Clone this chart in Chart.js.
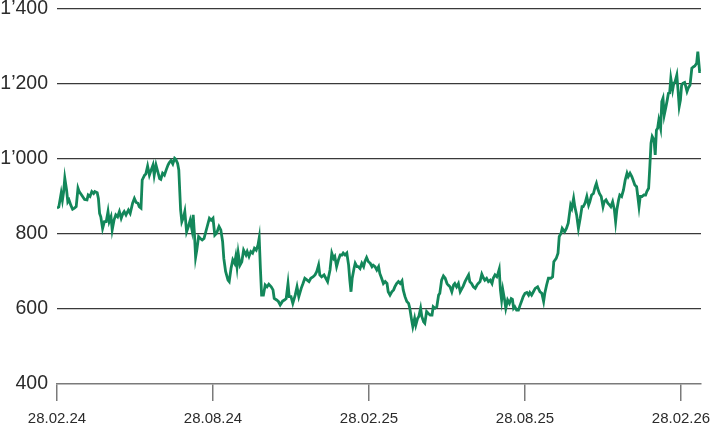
<!DOCTYPE html>
<html>
<head>
<meta charset="utf-8">
<script src="https://cdn.jsdelivr.net/npm/chart.js@4.4.1/dist/chart.umd.min.js"></script>
<style>
  html, body { margin: 0; padding: 0; background: #fff; }
  .chart-container { position: relative; width: 712px; height: 428px; }
</style>
</head>
<body>
<div class="chart-container"><canvas id="priceChart"></canvas></div>
<script>
// time axis in weeks since 28.02.24
const xTickWeeks = [0, 26, 52, 78, 104];
const xTickLabels = ['28.02.24', '28.08.24', '28.02.25', '28.08.25', '28.02.26'];
const lastWeek = 107.33;
const yTicks = [400, 600, 800, 1000, 1200, 1400];

const weeks = [
  0.0, 0.3, 0.7, 0.9, 1.1, 1.3, 1.6, 1.8, 2.0, 2.3, 2.6, 2.9, 3.2, 3.5, 3.7, 4.1, 4.6, 5.0, 5.2, 5.5,
  5.8, 6.1, 6.3, 6.7, 6.9, 7.1, 7.3, 7.6, 7.9, 8.2, 8.5, 8.7, 9.0, 9.2, 9.5, 9.8, 10.1, 10.4, 10.7, 11.0,
  11.2, 11.5, 11.9, 12.2, 12.6, 12.9, 13.2, 13.5, 13.7, 14.0, 14.2, 14.6, 14.8, 15.1, 15.4, 15.7, 16.0, 16.2, 16.5, 16.8,
  17.1, 17.3, 17.6, 17.9, 18.2, 18.5, 18.7, 19.0, 19.3, 19.6, 19.8, 20.1, 20.3, 20.6, 20.8, 21.1, 21.3, 21.6, 21.9, 22.2,
  22.5, 22.7, 22.9, 23.1, 23.3, 23.6, 23.9, 24.2, 24.5, 24.8, 25.1, 25.4, 25.7, 26.0,
  26.3, 26.6, 27.0, 27.3, 27.6, 27.8, 28.1, 28.5, 28.7, 29.0, 29.3, 29.6, 29.8, 30.0, 30.2, 30.5, 30.8, 31.1, 31.5, 31.7,
  32.0, 32.3, 32.6, 32.9, 33.2, 33.5, 33.7, 33.9, 34.1, 34.4, 34.7, 35.0, 35.3, 35.7, 36.0, 36.2, 36.6, 36.9, 37.2, 37.6,
  37.9, 38.2, 38.5, 38.7, 39.0, 39.3, 39.7, 40.0, 40.3, 40.7, 41.0, 41.3, 41.7, 42.0, 42.3, 42.7, 43.0, 43.3, 43.6, 43.8,
  44.1, 44.5, 44.8, 45.1, 45.5, 45.8, 46.1, 46.3, 46.6, 46.9, 47.2, 47.5, 47.7, 48.0, 48.3, 48.6, 48.8, 49.0, 49.2, 49.5,
  49.7, 50.0, 50.2, 50.5, 50.8, 51.1, 51.3, 51.6, 51.9, 52.2, 52.5, 52.7,
  53.0, 53.3, 53.6, 53.8, 54.1, 54.4, 54.7, 55.0, 55.2, 55.5, 55.8, 56.1, 56.3, 56.6, 56.9, 57.2, 57.5, 57.7, 58.0, 58.3,
  58.6, 58.8, 59.1, 59.3, 59.6, 59.8, 60.1, 60.3, 60.6, 60.8, 61.1, 61.3, 61.6, 61.9, 62.2, 62.5, 62.7, 63.0, 63.3, 63.6,
  63.8, 64.1, 64.4, 64.7, 65.0, 65.2, 65.5, 65.8, 66.1, 66.3, 66.6, 66.9, 67.2, 67.5, 67.7, 68.0, 68.3, 68.6, 68.8, 69.1,
  69.4, 69.7, 70.0, 70.2, 70.5, 70.8, 71.1, 71.3, 71.6, 71.9, 72.2, 72.5, 72.7, 73.0, 73.3, 73.5, 73.7, 73.9, 74.1, 74.3,
  74.6, 74.8, 75.1, 75.4, 75.7, 75.9, 76.1, 76.3, 76.6, 76.9, 77.2, 77.5, 77.7, 78.0, 78.3, 78.6, 78.8, 79.1, 79.4,
  79.7, 80.1, 80.5, 80.8, 81.1, 81.3, 81.6, 81.9, 82.3, 82.6, 82.8, 83.2, 83.5, 83.7, 84.0, 84.2, 84.6, 84.9, 85.2, 85.6,
  85.8, 86.1, 86.3, 86.6, 86.9, 87.2, 87.5, 87.7, 88.0, 88.3, 88.6, 88.8, 89.1, 89.4, 89.7, 89.9, 90.1, 90.4, 90.7, 91.0,
  91.2, 91.5, 91.8, 92.1, 92.3, 92.6, 92.9, 93.1, 93.3, 93.6, 93.8, 94.1, 94.4, 94.7, 95.0, 95.2, 95.5, 95.8, 96.1, 96.3,
  96.6, 96.8, 97.0, 97.2, 97.5, 97.8, 98.1, 98.3, 98.6, 98.8, 99.0, 99.2, 99.5, 99.7, 99.9, 100.1, 100.3, 100.6, 100.8, 101.0,
  101.2, 101.5, 101.7, 101.9, 102.1, 102.3, 102.6, 102.8, 103.0, 103.3, 103.5, 103.7, 103.9, 104.1, 104.3, 104.6, 104.8, 105.0, 105.2, 105.5,
  105.8, 106.1, 106.3, 106.6, 106.8, 107.1, 107.3
];

const closes = [
  869, 872, 909, 890, 912, 949, 917, 886, 891, 877, 866, 869, 873, 922, 913, 904, 892, 891, 904, 900,
  913, 908, 913, 910, 895, 855, 846, 815, 833, 833, 860, 833, 846, 811, 837, 851, 846, 860, 842, 855,
  860, 851, 864, 855, 882, 895, 884, 882, 873, 869, 944, 957, 960, 981, 957, 971, 984, 957, 984, 966,
  948, 946, 962, 957, 971, 984, 990, 996, 987, 1002, 999, 988, 971, 864, 833, 846, 860, 806, 820, 837,
  811, 851, 802, 738, 757, 793, 788, 784, 788, 806, 824, 842, 837, 842,
  797, 802, 820, 811, 780, 735, 700, 677, 673, 708, 731, 722, 740, 713, 749, 717, 726, 757, 744, 753,
  740, 753, 749, 762, 757, 771, 790, 708, 637, 637, 664, 659, 666, 659, 651, 628, 624, 620, 611, 621,
  624, 628, 668, 633, 633, 615, 637, 659, 633, 655, 668, 682, 677, 673, 682, 686, 691, 700, 717, 691,
  686, 691, 682, 673, 704, 749, 735, 740, 713, 731, 744, 744, 749, 744, 749, 717, 677, 646, 682, 708,
  722, 713, 713, 708, 722, 713, 726, 737, 726, 722, 713, 717,
  713, 704, 713, 695, 682, 668, 673, 668, 646, 637, 646, 651, 659, 668, 673, 668, 675, 651, 633, 620,
  615, 602, 571, 553, 575, 557, 575, 580, 602, 580, 566, 562, 593, 588, 584, 584, 606, 602, 606, 637,
  642, 677, 688, 682, 668, 664, 659, 646, 664, 668, 659, 668, 646, 655, 661, 673, 682, 691, 673, 668,
  659, 655, 664, 668, 673, 693, 682, 677, 682, 673, 677, 668, 682, 691, 686, 695, 706, 651, 624, 651,
  624, 602, 624, 615, 628, 626, 602, 606, 597, 597, 611, 624, 633, 642, 644, 637, 644, 637, 646,
  655, 659, 646, 642, 620, 642, 664, 682, 682, 686, 726, 735, 749, 793, 802, 815, 806, 815, 829, 877,
  869, 895, 873, 851, 815, 842, 873, 873, 882, 900, 877, 886, 904, 908, 926, 935, 922, 908, 900, 873,
  886, 891, 882, 877, 873, 886, 864, 833, 864, 891, 904, 900, 917, 944, 962, 953, 962, 953, 940, 931,
  926, 900, 873, 900, 900, 904, 904, 913, 922, 979, 1042, 1060, 1051, 1011, 1077, 1082, 1104, 1082, 1153, 1162,
  1117, 1140, 1157, 1175, 1176, 1215, 1184, 1202, 1206, 1224, 1184, 1140, 1157, 1197, 1202, 1204, 1193, 1180, 1189, 1197,
  1242, 1246, 1248, 1255, 1286, 1233, 1233
];

const fontFamily = '"Liberation Sans", Arial, sans-serif';

function formatThousands(v) {
    const s = String(v);
    return s.length > 3 ? s.slice(0, -3) + '\u2019' + s.slice(-3) : s;
}

const points = weeks.map((w, i) => ({ x: w, y: closes[i] }));

new Chart(document.getElementById('priceChart').getContext('2d'), {
    type: 'line',
    data: {
        datasets: [{
            data: points,
            borderColor: '#13875a',
            borderWidth: 2.8,
            pointRadius: 0,
            tension: 0,
            fill: false
        }]
    },
    options: {
        responsive: true,
        maintainAspectRatio: false,
        animation: false,
        layout: { padding: 0 },
        plugins: { legend: { display: false }, tooltip: { enabled: false } },
        scales: {
            x: {
                type: 'linear',
                min: 0,
                max: lastWeek,
                afterBuildTicks: scale => { scale.ticks = xTickWeeks.map(v => ({ value: v })); },
                afterFit: scale => {
                    scale.height = 44;
                    scale.paddingLeft = 0;
                    scale.paddingRight = 11;
                },
                ticks: {
                    callback: (v, i) => xTickLabels[i],
                    font: { family: fontFamily, size: 15 },
                    color: '#2b2b2b',
                    padding: 9,
                    maxRotation: 0,
                    autoSkip: false
                },
                grid: { drawOnChartArea: false, drawTicks: true, tickLength: 17, color: '#7a7a7a', lineWidth: 1.5 },
                border: { display: true, color: '#7a7a7a', width: 1.5 }
            },
            y: {
                min: 400,
                max: 1400,
                afterBuildTicks: scale => { scale.ticks = yTicks.map(v => ({ value: v })); },
                afterFit: scale => {
                    scale.width = 57;
                    scale.paddingTop = 9;
                    scale.paddingBottom = 0;
                },
                ticks: {
                    callback: v => formatThousands(v),
                    font: { family: fontFamily, size: 19.5, lineHeight: 0.923 },
                    color: '#2b2b2b',
                    padding: 9
                },
                grid: {
                    drawTicks: false,
                    color: ctx => ctx.tick && ctx.tick.value === 400 ? 'rgba(0,0,0,0)' : '#3a3a3a',
                    lineWidth: 1.2
                },
                border: { display: false }
            }
        }
    }
});
</script>
</body>
</html>
